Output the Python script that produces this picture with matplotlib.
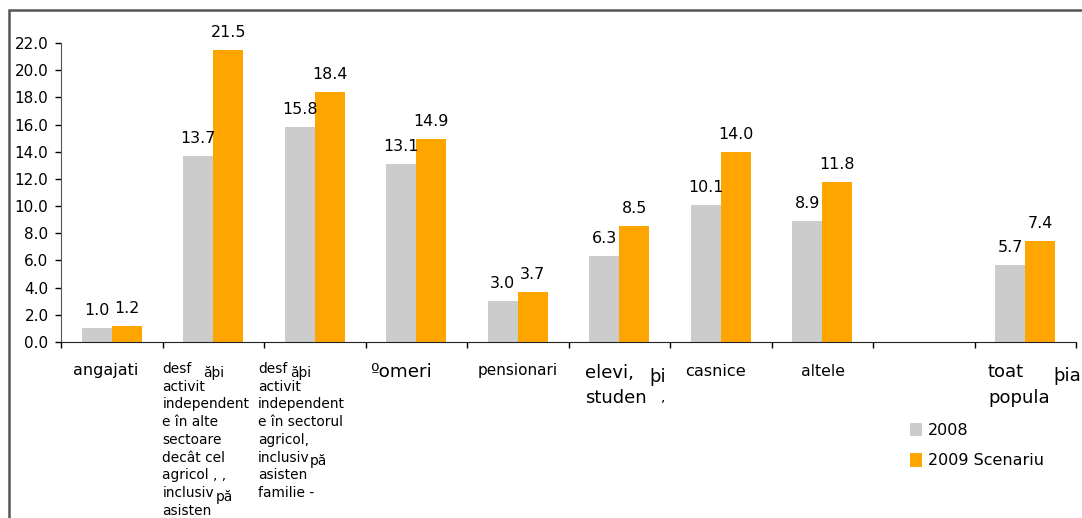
import numpy as np
import matplotlib.pyplot as plt
from matplotlib.patches import Rectangle

plt.rcParams['font.family'] = ['DejaVu Sans']

# Date, slotul 9 este gol
categorii = [["angajati"],
             ["desf", "activit", "independent", "e în alte", "sectoare",
              "decât cel", "agricol , ,", "inclusiv", "asisten"],
             ["desf", "activit", "independent", "e în sectorul", "agricol,",
              "inclusiv", "asisten", "familie -"],
             ["ºomeri"],
             ["pensionari"],
             ["elevi,", "studen"],
             ["casnice"],
             ["altele"],
             [],
             ["toat", "popula"]]
val_2008 = [1.0, 13.7, 15.8, 13.1, 3.0, 6.3, 10.1, 8.9, None, 5.7]
val_2009 = [1.2, 21.5, 18.4, 14.9, 3.7, 8.5, 14.0, 11.8, None, 7.4]
yticks = np.arange(0, 22.1, 2)

# bucati de text deplasate: (slot, pozitie in slot, rand, text)
fragmente = [(1, 0.40, 0, "ăþi"), (2, 0.256, 0, "ăþi"),
             (1, 0.52, 7, "pă"), (2, 0.455, 5, "pă"),
             (5, 0.793, 0, "þi"), (5, 0.911, 1, ","),
             (9, 0.773, 0, "þia")]

gri = '#CCCCCC'
portocaliu = '#FFA500'

fig = plt.figure(figsize=(10.82, 5.18), dpi=100)
ax = fig.add_axes([61 / 1082, 176 / 518, (1076 - 61) / 1082, (342 - 43) / 518])

x = np.arange(len(categorii))
w = 0.296
idx = [i for i in x if val_2008[i] is not None]
v08 = [val_2008[i] for i in idx]
v09 = [val_2009[i] for i in idx]
pos = np.array(idx)

b1 = ax.bar(pos - w / 2, v08, w, color=gri, label='2008')
b2 = ax.bar(pos + w / 2, v09, w, color=portocaliu, label='2009 Scenariu')

for bars, vals in ((b1, v08), (b2, v09)):
    for b, v in zip(bars, vals):
        ax.annotate("{:.1f}".format(v), xy=(b.get_x() + b.get_width() / 2, v),
                    xytext=(0, 13), textcoords='offset pixels',
                    ha='center', va='baseline', fontsize=11.4)

ax.set_xlim(-0.5, len(categorii) - 0.5)
ax.set_ylim(0, 22)
ax.set_yticks(yticks)
ax.set_yticklabels(["{:.1f}".format(t) for t in yticks], fontsize=11)
ax.set_xticks(np.arange(-0.5, len(categorii), 1))
ax.set_xticklabels([])
ax.tick_params(axis='both', direction='out', length=4, width=1, pad=5)

for s in ('top', 'right'):
    ax.spines[s].set_visible(False)
ax.spines['left'].set_color('#555555')
ax.spines['bottom'].set_color('#222222')

# etichete categorii, rand cu rand
dx = [0.118, 0.0, -0.059, 0.044, 0.108, 0.163, 0.148, 0.29, 0.0, 0.133]
marimi = [11.5, 9.9, 9.9, 13.2, 11, 13, 11.6, 11.3, 11, 13]
prima = [33, 31, 31, 35, 33, 36, 34, 34, 34, 35]   # pixeli sub axa
pas = [17.7, 17.7, 17.7, 17.7, 17.7, 25, 17.7, 17.7, 17.7, 26]


def pune(i, rel, rand, txt, mut=0, fs=None):
    ax.annotate(txt, xy=(i - 0.5 + rel, 0), xycoords=('data', 'axes fraction'),
                xytext=(0, -(prima[i] + rand * pas[i] + mut)),
                textcoords='offset pixels', ha='left', va='baseline',
                fontsize=fs or marimi[i], annotation_clip=False)


for i, linii in enumerate(categorii):
    for k, linie in enumerate(linii):
        pune(i, dx[i], k, linie)

for i, rel, rand, t in fragmente:
    pune(i, rel, rand, t, mut=4 if t != "," else -2,
         fs=marimi[i] * (0.75 if t == "," else 1))

fig.legend(handles=[b1, b2], loc='upper left',
           bbox_to_anchor=(910 / 1082, 1 - 423 / 518), frameon=False,
           borderpad=0, borderaxespad=0,
           fontsize=11.5, handlelength=0.75, handleheight=0.9,
           handletextpad=0.35, labelspacing=0.95)

fig.patches.append(Rectangle((9 / 1082, -0.1), 1.2, 508 / 518 + 0.1,
                             transform=fig.transFigure, fill=False,
                             edgecolor='#555555', lw=1.8))

fig.savefig('out.png', dpi=100)
